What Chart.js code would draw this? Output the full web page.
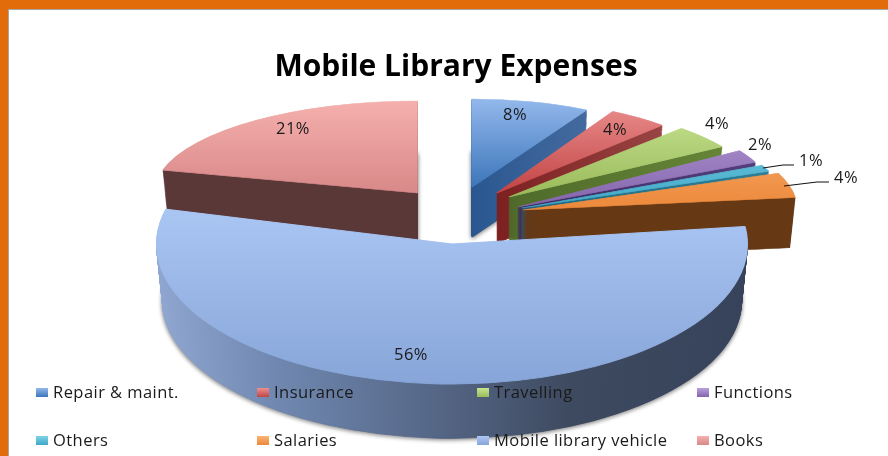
<!DOCTYPE html>
<html>
<head>
<meta charset="utf-8">
<style>
  html, body { margin: 0; padding: 0; background: #fff; }
  canvas { display: block; }
</style>
<script src="https://cdn.jsdelivr.net/npm/chart.js@4"></script>
</head>
<body>
<canvas id="expenses" width="888" height="456"></canvas>
<script>
const categories = ["Repair & maint.", "Insurance", "Travelling", "Functions", "Others", "Salaries", "Mobile library vehicle", "Books"];
const percentValues = [8, 4, 4, 2, 1, 4, 56, 21];

// cores: topo claro -> topo escuro
const topLight = ["#93b8ec", "#ec9090", "#c8e492", "#b8a0da", "#80d2e8", "#fab476", "#abc7f4", "#f5b0ad"];
const topDark = ["#3c76ba", "#c24444", "#9aba5a", "#8464ac", "#3fa8c6", "#ec883a", "#87a5d8", "#d88888"];
const wallLeft = ["#2a5790", "#7c2020", "#4f6a2a", "#3b2a60", "#1f6a80", "#663814", "#8fa6d0", "#5a3838"];
const wallRight = ["#5f7fae", "#a65454", "#6a8a3a", "#54407e", "#2f8098", "#663814", "#36435a", "#5a3838"];

// moldura de cada fatia na tela: ponta x, ponta y, raio x, raio y, profundidade
const sliceFrames = [
  [472, 187, 238, 88, 50],
  [497, 193, 241, 93, 50],
  [509, 197, 252, 94, 50],
  [518, 207, 262, 105, 50],
  [522, 208, 265, 100, 50],
  [523, 210, 274, 100, 50],
  [452, 244, 295, 140, 57],
  [417, 193, 262, 92, 50],
];
const drawOrder = [7, 0, 1, 2, 3, 4, 5, 6];

const labelSpots = [[515, 115], [615, 130], [717, 124], [760, 145], [811, 161], [846, 178], [411, 355], [293, 129]];
const leaderLines = [
  [[763, 168], [783, 165], [794, 165]],
  [[784, 186], [817, 182], [829, 182]],
];
const legendSpots = [[36, 392], [257, 392], [477, 392], [697, 392], [36, 440], [257, 440], [477, 440], [697, 440]];

const LABEL_FONT = "16.5px 'Open Sans', sans-serif";

// desenha o arco com a moldura e a cor pedidas
function drawArcInFrame(ctx, arc, frame, fill, shift, shrink) {
  const R = arc.outerRadius;
  const rx = frame[2] * shrink / R;
  const ry = frame[3] * shrink / R;
  ctx.save();
  ctx.translate(frame[0], frame[1] + shift);
  ctx.scale(rx, ry);
  ctx.translate(-arc.x, -arc.y);
  const base = arc.options;
  const paint = fill(arc, frame, R);
  arc.options = Object.assign(Object.create(base), {
    backgroundColor: paint,
    borderColor: paint,
    borderWidth: 1.2,
  });
  arc.draw(ctx);
  arc.options = base;
  ctx.restore();
}

const pie3d = {
  id: "pie3d",
  beforeDraw(chart) {
    const { ctx, width, height } = chart;
    ctx.save();
    ctx.fillStyle = "#fff";
    ctx.fillRect(0, 0, width, height);
    ctx.fillStyle = "#e36c0a";
    ctx.fillRect(0, 0, width, 9);
    ctx.fillRect(0, 0, 8, height);
    ctx.fillStyle = "#a6a6a6";
    ctx.fillRect(8, 9, width, 1);
    ctx.fillRect(8, 9, 1, height);
    ctx.restore();
  },
  beforeDatasetsDraw(chart) {
    const ctx = chart.ctx;
    const arcs = chart.getDatasetMeta(0).data;

    drawOrder.forEach((i) => {
      const arc = arcs[i];
      const frame = sliceFrames[i];
      const depth = frame[4];

      const wallFill = (a, f, R) => {
        const g = ctx.createLinearGradient(a.x - R, 0, a.x + R, 0);
        if (i === 6) {
          g.addColorStop(0, "#8fa6d0");
          g.addColorStop(0.2, "#7088b0");
          g.addColorStop(0.45, "#57698a");
          g.addColorStop(0.7, "#3e4a60");
          g.addColorStop(1, "#36435a");
        } else {
          g.addColorStop(0.5, wallLeft[i]);
          g.addColorStop(1, wallRight[i]);
        }
        return g;
      };
      const topFill = (a, f, R) => {
        const g = ctx.createLinearGradient(0, a.y - R, 0, a.y + R);
        if (i === 6) {
          g.addColorStop(0.35, topLight[i]);
          g.addColorStop(1, topDark[i]);
        } else {
          g.addColorStop(0, topLight[i]);
          g.addColorStop(0.5, topDark[i]);
        }
        return g;
      };

      // parede: empilha copias do arco, de baixo para cima
      for (let d = depth; d >= 1; d--) {
        ctx.save();
        if (d === depth && (i === 6 || i === 7 || i === 0)) {
          ctx.shadowColor = "rgba(0,0,0,0.5)";
          ctx.shadowBlur = 4;
          ctx.shadowOffsetY = 1;
        }
        drawArcInFrame(ctx, arc, frame, wallFill, d, 1 - 0.02 * d / depth);
        ctx.restore();
      }
      drawArcInFrame(ctx, arc, frame, topFill, 0, 1);
    });
    return false;
  },
  afterDraw(chart) {
    const ctx = chart.ctx;
    ctx.save();
    ctx.fillStyle = "#1a1a1a";
    ctx.strokeStyle = "#111";
    ctx.lineWidth = 1;
    ctx.font = LABEL_FONT;
    ctx.letterSpacing = "0.45px";
    ctx.textBaseline = "middle";

    leaderLines.forEach((pts) => {
      ctx.beginPath();
      pts.forEach((p, n) => (n ? ctx.lineTo(p[0], p[1]) : ctx.moveTo(p[0], p[1])));
      ctx.stroke();
    });

    ctx.textAlign = "center";
    percentValues.forEach((v, i) => {
      ctx.fillText(v + "%", labelSpots[i][0], labelSpots[i][1]);
    });

    // legenda em colunas fixas
    ctx.textAlign = "left";
    categories.forEach((name, i) => {
      const [x, y] = legendSpots[i];
      const g = ctx.createLinearGradient(0, y - 4, 0, y + 5);
      g.addColorStop(0, topLight[i]);
      g.addColorStop(1, topDark[i]);
      ctx.fillStyle = g;
      ctx.fillRect(x, y - 4, 12, 9);
      ctx.fillStyle = "#1a1a1a";
      ctx.fillText(name, x + 17, y + 1);
    });
    ctx.restore();
  },
};

new Chart(document.getElementById("expenses"), {
  type: "pie",
  data: {
    labels: categories,
    datasets: [{
      data: percentValues,
      backgroundColor: topDark,
      borderWidth: 0,
    }],
  },
  options: {
    responsive: false,
    animation: false,
    layout: { padding: { left: 24 } },
    plugins: {
      legend: { display: false },
      tooltip: { enabled: false },
      title: {
        display: true,
        text: "Mobile Library Expenses",
        fullSize: false,
        color: "#000",
        font: { family: "'Open Sans', sans-serif", size: 30, weight: "bold" },
        padding: { top: 49, bottom: 10 },
      },
    },
  },
  plugins: [pie3d],
});
</script>
</body>
</html>
